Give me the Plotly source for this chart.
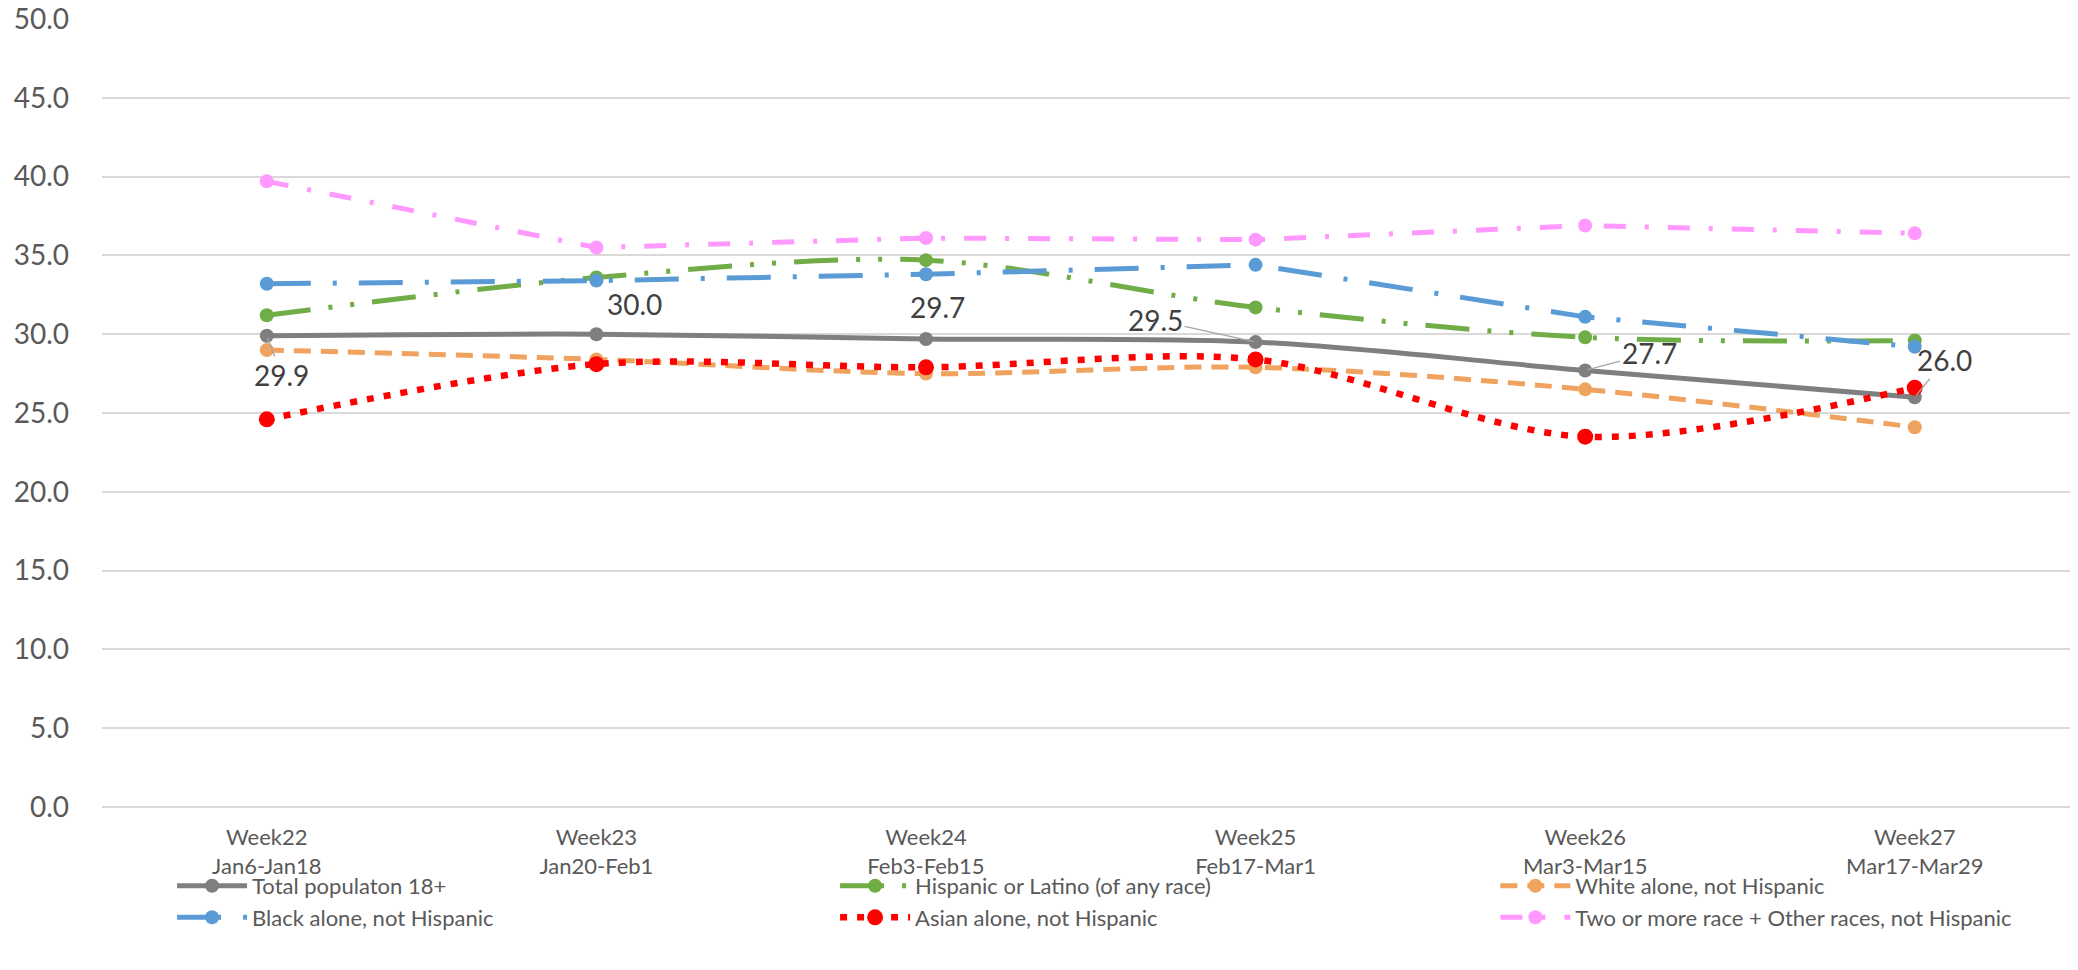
import plotly.graph_objects as go

# ---- data ----
week_labels = ["Week22<br>Jan6-Jan18", "Week23<br>Jan20-Feb1", "Week24<br>Feb3-Feb15",
               "Week25<br>Feb17-Mar1", "Week26<br>Mar3-Mar15", "Week27<br>Mar17-Mar29"]
total = [29.9, 30.0, 29.7, 29.5, 27.7, 26.0]
hispanic = [31.2, 33.6, 34.7, 31.7, 29.8, 29.6]
white = [29.0, 28.4, 27.5, 27.9, 26.5, 24.1]
black = [33.2, 33.4, 33.8, 34.4, 31.1, 29.2]
asian = [24.6, 28.1, 27.9, 28.4, 23.5, 26.6]
other = [39.7, 35.5, 36.1, 36.0, 36.9, 36.4]
y_ticks = [0, 5, 10, 15, 20, 25, 30, 35, 40, 45, 50]

x = list(range(len(week_labels)))

FONT = "Lato, 'Liberation Sans', Arial, sans-serif"

# name, values, color, dash, width, marker size, shape, legend column
series = [
    ("Total populaton 18+", total, "#7F7F7F", "solid", 5, 14, "spline", "legend"),
    ("Hispanic or Latino (of any race)", hispanic, "#70AD47", "44px,18px,4px,18px,4px,18px", 5, 14, "spline", "legend2"),
    ("White alone, not Hispanic", white, "#F0A35E", "17px,10px", 5, 14, "spline", "legend3"),
    ("Black alone, not Hispanic", black, "#5B9BD5", "44px,22px,4px,22px", 5, 14, "linear", "legend"),
    ("Asian alone, not Hispanic", asian, "#FF0000", "7px,10px", 6.5, 16, "spline", "legend2"),
    ("Two or more race + Other races, not Hispanic", other, "#FF99FF", "22px,19px,4px,19px", 5, 14, "linear", "legend3"),
]

fig = go.Figure()
for name, vals, color, dash, width, msize, shape, leg in series:
    fig.add_trace(go.Scatter(
        x=x, y=vals, name=name, mode="lines+markers",
        line=dict(color=color, width=width, dash=dash, shape=shape,
                  smoothing=0.9 if shape == "spline" else None),
        marker=dict(color=color, size=msize, symbol="circle"),
        legend=leg,
        hoverinfo="x+y",
    ))

# data labels for total series (offsets in px: dx, dy(screen, down positive), leader)
label_offsets = [(15, 39, True), (38, -30, False), (12, -32, False),
                 (-100, -22, True), (64, -17, True), (30, -37, True)]
for xi, v, (dx, dy, leader) in zip(x, total, label_offsets):
    if leader:
        fig.add_annotation(x=xi, y=v, text=f"{v:.1f}", showarrow=True, arrowhead=0,
                           arrowwidth=1.3, arrowcolor="#A6A6A6", ax=dx, ay=dy, standoff=2,
                           font=dict(size=28, color="#404040", family=FONT))
    else:
        fig.add_annotation(x=xi, y=v, text=f"{v:.1f}", showarrow=False,
                           xshift=dx, yshift=-dy,
                           font=dict(size=28, color="#404040", family=FONT))

legend_common = dict(orientation="v", y=-0.0735, xanchor="left", yanchor="top",
                     font=dict(size=22, color="#595959", family=FONT),
                     bgcolor="rgba(0,0,0,0)", itemwidth=70,
                     tracegroupgap=0, itemclick=False)

fig.update_layout(
    width=2078, height=970,
    margin=dict(l=102, r=8, t=19, b=163, autoexpand=False),
    paper_bgcolor="white", plot_bgcolor="white",
    font=dict(family=FONT, color="#595959"),
    showlegend=True,
    legend=dict(x=0.0356, **legend_common),
    legend2=dict(x=0.3725, **legend_common),
    legend3=dict(x=0.7080, **legend_common),
)
fig.update_xaxes(range=[-0.5, 5.471], tickmode="array", tickvals=x, ticktext=week_labels,
                 showgrid=False, zeroline=False, showline=False,
                 tickfont=dict(size=22, color="#595959", family=FONT), ticklabelstandoff=15)
fig.update_yaxes(range=[0, 50], tickmode="array", tickvals=y_ticks,
                 ticktext=[f"{t:.1f}" for t in y_ticks],
                 showgrid=True, gridcolor="#D9D9D9", gridwidth=2,
                 zeroline=True, zerolinecolor="#D9D9D9", zerolinewidth=2, showline=False,
                 tickfont=dict(size=28, color="#595959", family=FONT), ticklabelstandoff=32)

# remove the browser's default 8px body margin so the figure fills the window exactly
fig.write_html("out.html", config={"displayModeBar": False},
               post_script="document.body.style.margin='0';")
